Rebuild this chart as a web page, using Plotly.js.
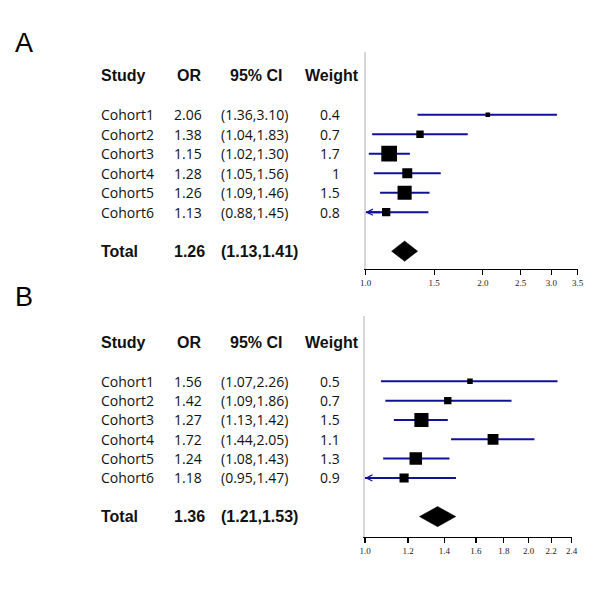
<!DOCTYPE html>
<html>
<head>
<meta charset="utf-8">
<script src="https://cdn.plot.ly/plotly-3.0.1.min.js"></script>
<style>html,body{margin:0;padding:0;background:#fff}#chart{width:600px;height:598px}</style>
</head>
<body>
<div id="chart"></div>
<script>
// ---------- data ----------
const studies = ['Cohort1', 'Cohort2', 'Cohort3', 'Cohort4', 'Cohort5', 'Cohort6'];
const headers = ['Study', 'OR', '95% CI', 'Weight'];
const totalLabel = 'Total';

// Panel A
const orA = [2.06, 1.38, 1.15, 1.28, 1.26, 1.13];
const loA = [1.36, 1.04, 1.02, 1.05, 1.09, 0.88];
const hiA = [3.10, 1.83, 1.30, 1.56, 1.46, 1.45];
const weightA = [0.4, 0.7, 1.7, 1, 1.5, 0.8];
const totalOrA = 1.26, totalLoA = 1.13, totalHiA = 1.41;
const tickValsA = [1.0, 1.5, 2.0, 2.5, 3.0, 3.5];
const tickTextA = ['1.0', '1.5', '2.0', '2.5', '3.0', '3.5'];

// Panel B
const orB = [1.56, 1.42, 1.27, 1.72, 1.24, 1.18];
const loB = [1.07, 1.09, 1.13, 1.44, 1.08, 0.95];
const hiB = [2.26, 1.86, 1.42, 2.05, 1.43, 1.47];
const weightB = [0.5, 0.7, 1.5, 1.1, 1.3, 0.9];
const totalOrB = 1.36, totalLoB = 1.21, totalHiB = 1.53;
const tickValsB = [1.0, 1.2, 1.4, 1.6, 1.8, 2.0, 2.2, 2.4];
const tickTextB = ['1.0', '1.2', '1.4', '1.6', '1.8', '2.0', '2.2', '2.4'];

// ---------- layout helpers ----------
const W = 600, H = 598;
const px = v => v / W;
const py = v => 1 - v / H;
const CI_COLOR = '#10109a';
const rowFont = {family: 'Open Sans, Noto Sans, sans-serif', size: 14, color: '#111'};
const boldFont = {family: 'Liberation Sans, Arial, sans-serif', size: 16, color: '#111', weight: 700};
const col = {study: 99, orLeft: 172, orHead: 189, ciLeft: 219, ciHead: 255.5, wRight: 342, wHead: 332};
const bold = t => '<b>' + t + '</b>';

const traces = [];
const annotations = [];
const layout = {
  width: W, height: H,
  margin: {l: 0, r: 0, t: 0, b: 0},
  paper_bgcolor: '#fff', plot_bgcolor: '#fff',
  showlegend: false,
  annotations: annotations
};

function panel(n, p) {
  const xa = n === 1 ? 'x' : 'x2', ya = n === 1 ? 'y' : 'y2';
  const xkey = n === 1 ? 'xaxis' : 'xaxis2', ykey = n === 1 ? 'yaxis' : 'yaxis2';
  const rows = p.or.map((_, i) => i + 2);
  const totalRow = 9;

  layout[xkey] = {
    type: 'log', range: [0, Math.log10(p.xmax)], domain: p.xdom, anchor: ya,
    showline: true, linecolor: '#000', linewidth: 1.2,
    ticks: 'outside', ticklen: 5, tickwidth: 1.2, tickcolor: '#000',
    tickmode: 'array', tickvals: p.tickVals, ticktext: p.tickText,
    tickfont: {family: 'Liberation Serif, serif', size: 9, color: '#222'},
    showgrid: false, zeroline: false, fixedrange: true
  };
  layout[ykey] = {
    range: p.yrange, domain: p.ydom, anchor: xa,
    showline: true, linecolor: '#d6d6d6', linewidth: 2,
    showticklabels: false, ticks: '', showgrid: false, zeroline: false, fixedrange: true
  };

  // CI lines
  const lx = [], ly = [];
  p.or.forEach((_, i) => { lx.push(p.lo[i], p.hi[i], null); ly.push(rows[i], rows[i], null); });
  traces.push({x: lx, y: ly, xaxis: xa, yaxis: ya, mode: 'lines', type: 'scatter',
    line: {color: CI_COLOR, width: 2}, hoverinfo: 'skip'});

  // arrows for intervals running past the axis start
  p.lo.forEach((lo, i) => {
    if (lo < 1) {
      annotations.push({xref: xa, yref: ya, axref: xa, ayref: ya,
        x: 0, y: rows[i], ax: Math.log10(Math.min(p.hi[i], 1.1)), ay: rows[i],
        text: '', showarrow: true, arrowhead: 5, arrowsize: 0.6, arrowwidth: 2,
        arrowcolor: CI_COLOR, standoff: 0, startstandoff: 0});
    }
  });

  // squares
  traces.push({x: p.or, y: rows, xaxis: xa, yaxis: ya, mode: 'markers', type: 'scatter',
    marker: {symbol: 'square', color: '#000', opacity: 1,
      size: p.w.map(w => 10 * Math.pow(w, 0.85)), line: {width: 0}},
    hoverinfo: 'skip'});

  // total diamond
  const f = 1.08, h = 0.52;
  traces.push({x: [p.tor / f, p.tor, p.tor * f, p.tor, p.tor / f],
    y: [totalRow, totalRow - h, totalRow, totalRow + h, totalRow],
    xaxis: xa, yaxis: ya, mode: 'lines', type: 'scatter', fill: 'toself',
    fillcolor: '#000', line: {color: '#000', width: 0.5}, hoverinfo: 'skip'});

  // table text
  const A = (x, y, text, font, xanchor) => annotations.push({
    xref: 'paper', yref: ya, x: px(x), y: y, text: text, font: font,
    xanchor: xanchor, yanchor: 'middle', showarrow: false});
  A(col.study, 0, bold(headers[0]), boldFont, 'left');
  A(col.orHead, 0, bold(headers[1]), boldFont, 'center');
  A(col.ciHead, 0, bold(headers[2]), boldFont, 'center');
  A(col.wHead, 0, bold(headers[3]), boldFont, 'center');
  studies.forEach((s, i) => {
    A(col.study, rows[i], s, rowFont, 'left');
    A(col.orLeft, rows[i], p.or[i].toFixed(2), rowFont, 'left');
    A(col.ciLeft, rows[i], '(' + p.lo[i].toFixed(2) + ',' + p.hi[i].toFixed(2) + ')', rowFont, 'left');
    A(col.wRight, rows[i], String(p.w[i]), rowFont, 'right');
  });
  A(col.study, totalRow, bold(totalLabel), boldFont, 'left');
  A(col.orLeft, totalRow, bold(p.tor.toFixed(2)), boldFont, 'left');
  A(col.ciLeft, totalRow, bold('(' + p.tlo.toFixed(2) + ',' + p.thi.toFixed(2) + ')'), boldFont, 'left');

  // panel letter
  annotations.push({xref: 'paper', yref: 'paper', x: px(23.5), y: py(p.letterY), text: p.letter,
    font: {family: 'Liberation Sans, Arial, sans-serif', size: 27, color: '#000'},
    xanchor: 'center', yanchor: 'middle', showarrow: false});
}

panel(1, {or: orA, lo: loA, hi: hiA, w: weightA, tor: totalOrA, tlo: totalLoA, thi: totalHiA,
  tickVals: tickValsA, tickText: tickTextA, xmax: 3.5,
  xdom: [px(365.5), px(577.5)], ydom: [py(268.7), py(52)], yrange: [9.9, -1.22],
  letter: 'A', letterY: 43});
panel(2, {or: orB, lo: loB, hi: hiB, w: weightB, tor: totalOrB, tlo: totalLoB, thi: totalHiB,
  tickVals: tickValsB, tickText: tickTextB, xmax: 2.4,
  xdom: [px(365), px(571.7)], ydom: [py(536.7), py(316)], yrange: [10.04, -1.38],
  letter: 'B', letterY: 297});

Plotly.newPlot('chart', traces, layout, {displayModeBar: false, staticPlot: true});
</script>
</body>
</html>
